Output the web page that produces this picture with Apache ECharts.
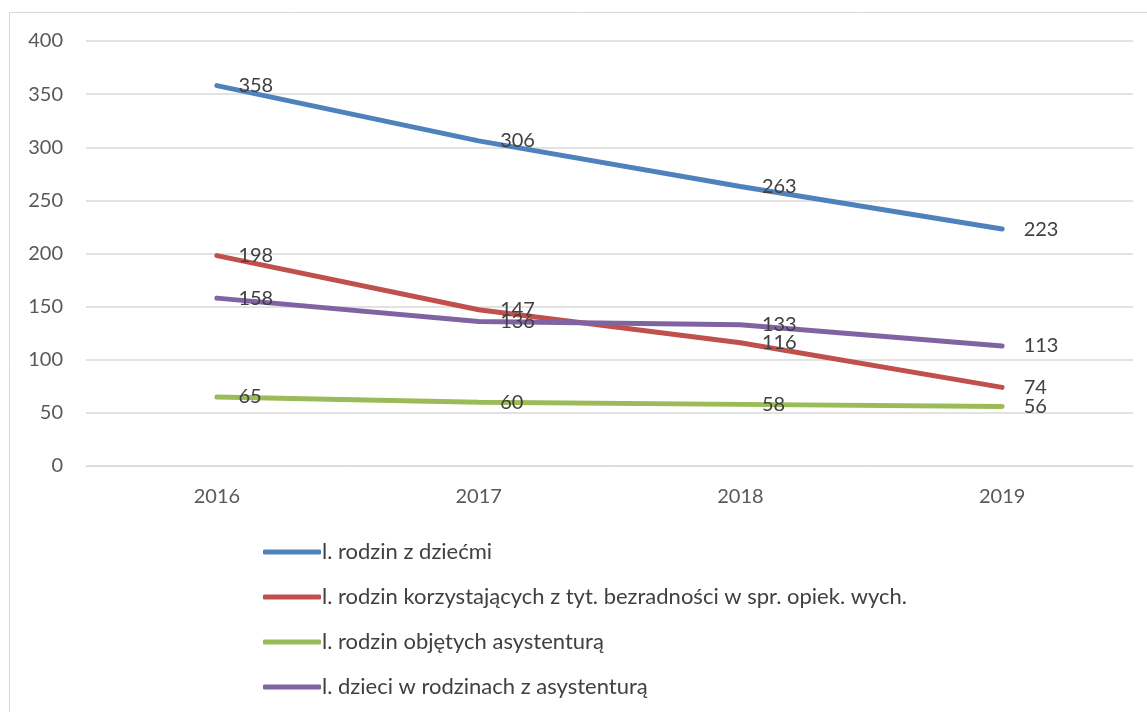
<!DOCTYPE html>
<html>
<head>
  <meta charset="utf-8" />
  <title>ECharts</title>
  <script src="https://cdn.jsdelivr.net/npm/echarts@6/dist/echarts.min.js"></script>
  <style>
    html, body { margin: 0; padding: 0; background: #fff; }
  </style>
</head>
<body>
<div id="main" style="width:1147px;height:712px;"></div>
<script type="text/javascript">
  var years = ['2016', '2017', '2018', '2019'];
  var seriesNames = [
    'l. rodzin z dziećmi',
    'l. rodzin korzystających z tyt. bezradności w spr. opiek. wych.',
    'l. rodzin objętych asystenturą',
    'l. dzieci w rodzinach z asystenturą'
  ];
  var rodzinZDziecmi = [358, 306, 263, 223];
  var rodzinBezradnosc = [198, 147, 116, 74];
  var rodzinAsystentura = [65, 60, 58, 56];
  var dzieciAsystentura = [158, 136, 133, 113];
  var colors = ['#4F81BD', '#C0504D', '#9BBB59', '#8064A2'];

  var fontFamily = 'Lato, "Open Sans", sans-serif';
  var myChart = echarts.init(document.getElementById('main'));

  // symbol kept tiny so labels still render (line labels hang on the symbols)
  function makeSeries(name, data, color) {
    return {
      name: name,
      type: 'line',
      data: data,
      symbol: 'circle',
      symbolSize: 1,
      showSymbol: true,
      color: color,
      itemStyle: { color: color },
      lineStyle: { width: 5, color: color, cap: 'round' },
      label: {
        show: true,
        position: 'right',
        distance: 21,
        color: '#404040',
        fontSize: 20,
        fontFamily: fontFamily
      },
      emphasis: { disabled: true }
    };
  }

  var option = {
    backgroundColor: '#fff',
    animation: false,
    graphic: [{
      type: 'rect',
      shape: { x: 9.5, y: 12.5, width: 1150, height: 710 },
      style: { fill: 'none', stroke: '#d9d9d9', lineWidth: 1 },
      silent: true
    }],
    grid: { left: 86, right: 14, top: 41, bottom: 246 },
    legend: {
      orient: 'vertical',
      left: 258,
      top: 536,
      itemWidth: 58,
      itemHeight: 5,
      itemGap: 23,
      icon: 'roundRect',
      textStyle: { color: '#404040', fontSize: 22, fontFamily: fontFamily, padding: [0, 0, 0, -4] },
      data: seriesNames
    },
    xAxis: {
      type: 'category',
      data: years,
      boundaryGap: true,
      axisLine: { lineStyle: { color: '#d9d9d9', width: 1 } },
      axisTick: { show: false },
      axisLabel: { color: '#595959', fontSize: 20, fontFamily: fontFamily, margin: 21 }
    },
    yAxis: {
      type: 'value',
      min: 0,
      max: 400,
      interval: 50,
      axisLine: { show: false },
      axisTick: { show: false },
      splitLine: { lineStyle: { color: '#d9d9d9', width: 1.5 } },
      axisLabel: { color: '#595959', fontSize: 20, fontFamily: fontFamily, margin: 23 }
    },
    series: [
      makeSeries(seriesNames[0], rodzinZDziecmi, colors[0]),
      makeSeries(seriesNames[1], rodzinBezradnosc, colors[1]),
      makeSeries(seriesNames[2], rodzinAsystentura, colors[2]),
      makeSeries(seriesNames[3], dzieciAsystentura, colors[3])
    ]
  };
  myChart.setOption(option);
</script>
</body>
</html>
